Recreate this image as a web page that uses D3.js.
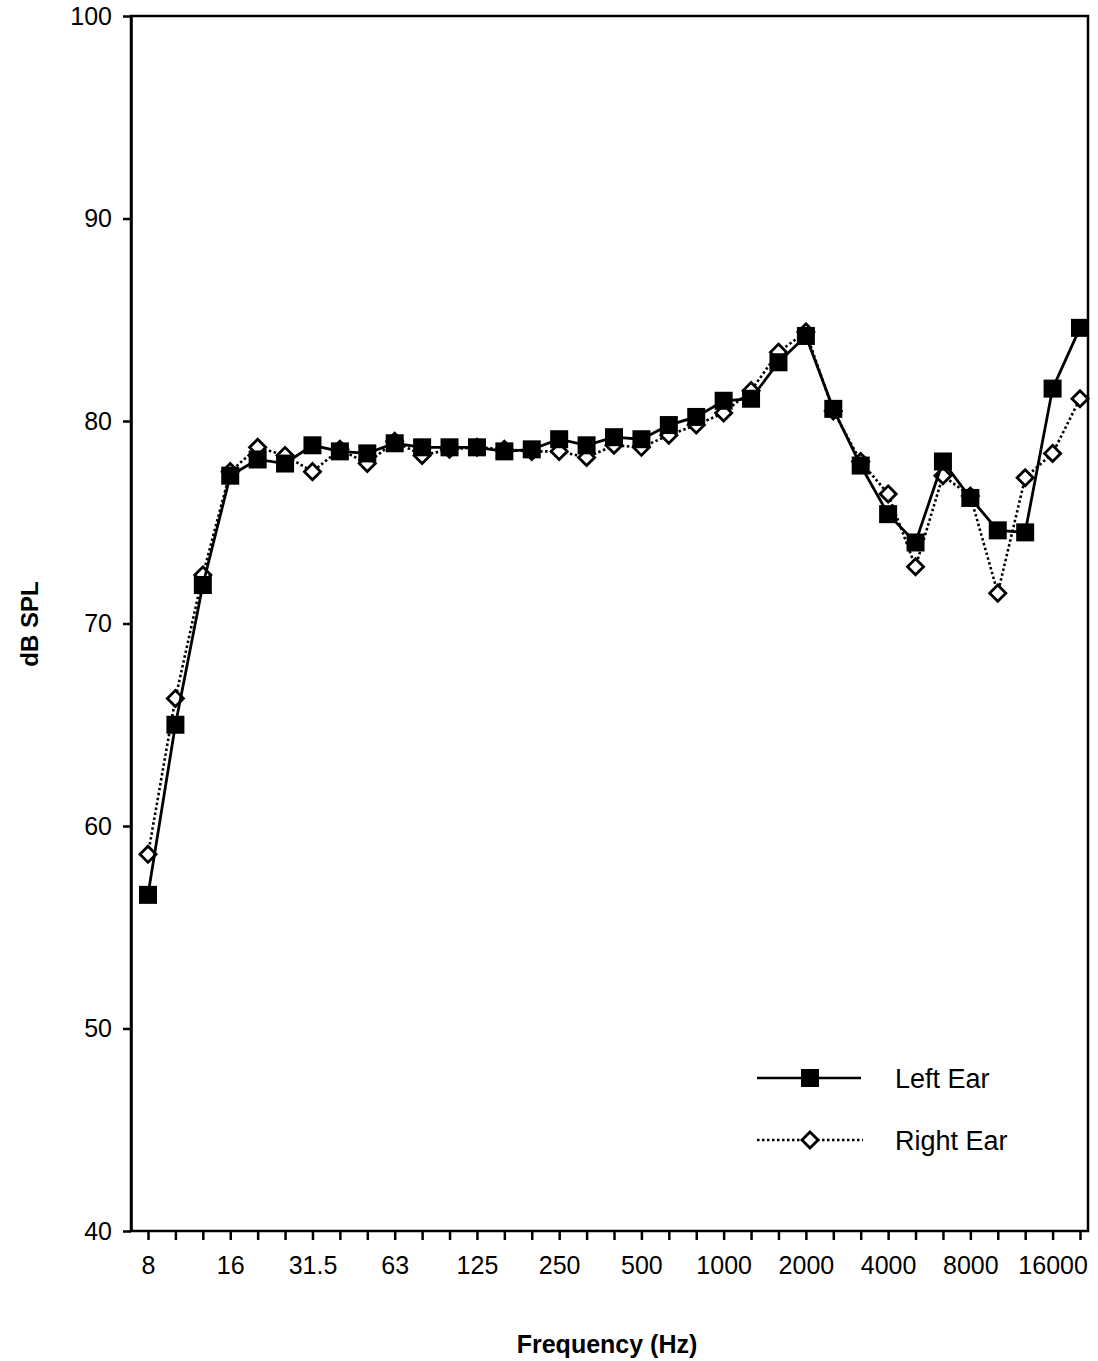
<!DOCTYPE html>
<html>
<head>
<meta charset="utf-8">
<script src="https://cdn.jsdelivr.net/npm/d3@7"></script>
<style>
  body { margin: 0; background: #fff; }
  svg { font-family: "Liberation Sans", Arial, sans-serif; }
</style>
</head>
<body>
<div id="chart"></div>
<script>
// third-octave bands
const freqs = ['8', '10', '12.5', '16', '20', '25', '31.5', '40', '50', '63', '80', '100', '125', '160', '200', '250',
  '315', '400', '500', '630', '800', '1000', '1250', '1600', '2000', '2500', '3150', '4000', '5000', '6300', '8000',
  '10000', '12500', '16000', '20000'];
const freqLabels = ['8', '16', '31.5', '63', '125', '250', '500', '1000', '2000', '4000', '8000', '16000'];

const leftEar = [56.6, 65.0, 71.9, 77.3, 78.1, 77.9, 78.8, 78.5, 78.4, 78.9, 78.7, 78.7, 78.7, 78.5, 78.6, 79.1,
  78.8, 79.2, 79.1, 79.8, 80.2, 81.0, 81.1, 82.9, 84.2, 80.6, 77.8, 75.4, 74.0, 78.0, 76.2, 74.6, 74.5, 81.6, 84.6];
const rightEar = [58.6, 66.3, 72.4, 77.5, 78.7, 78.3, 77.5, 78.6, 77.9, 79.0, 78.3, 78.6, 78.7, 78.6, 78.5, 78.5,
  78.2, 78.8, 78.7, 79.3, 79.8, 80.4, 81.5, 83.4, 84.4, 80.5, 78.0, 76.4, 72.8, 77.3, 76.3, 71.5, 77.2, 78.4, 81.1];

const yTicks = [40, 50, 60, 70, 80, 90, 100];

const chartAttrs = {
  width: 1098,
  height: 1361,
  margin: { top: 16, right: 10, bottom: 130, left: 131 }
};
const w = chartAttrs.width - chartAttrs.margin.left - chartAttrs.margin.right; // 957
const h = chartAttrs.height - chartAttrs.margin.top - chartAttrs.margin.bottom; // 1215

const svg = d3.select('#chart')
  .append('svg')
  .attr('width', chartAttrs.width)
  .attr('height', chartAttrs.height);

const g = svg.append('g')
  .attr('transform', `translate(${chartAttrs.margin.left},${chartAttrs.margin.top})`);

const x = d3.scalePoint().domain(freqs).range([17, 949]);
const y = d3.scaleLinear().domain([40, 100]).range([h, 0]);

// frame
g.append('rect')
  .attr('width', w)
  .attr('height', h)
  .attr('fill', 'none')
  .attr('stroke', '#000')
  .attr('stroke-width', 2.5);

// y axis
const yAxis = g.append('g')
  .call(d3.axisLeft(y).tickValues(yTicks).tickSize(8).tickPadding(6).tickSizeOuter(0));
yAxis.select('.domain').attr('stroke-width', 2.5);
yAxis.selectAll('.tick line').attr('stroke-width', 2.5);
yAxis.selectAll('.tick text').attr('font-size', 25).attr('fill', '#000').attr('dx', -5);

// x axis
const xAxis = g.append('g')
  .attr('transform', `translate(0,${h})`)
  .call(d3.axisBottom(x).tickSize(9).tickPadding(16).tickSizeOuter(0)
    .tickFormat(d => (freqLabels.includes(d) ? d : '')));
xAxis.select('.domain').remove();
xAxis.selectAll('.tick line').attr('stroke-width', 2.5);
xAxis.selectAll('.tick text').attr('font-size', 25).attr('fill', '#000');

// axis titles
svg.append('text')
  .attr('transform', 'translate(38,624) rotate(-90)')
  .attr('text-anchor', 'middle')
  .attr('font-size', 24)
  .attr('font-weight', 'bold')
  .text('dB SPL');

svg.append('text')
  .attr('x', 607)
  .attr('y', 1353)
  .attr('text-anchor', 'middle')
  .attr('font-size', 25)
  .attr('font-weight', 'bold')
  .text('Frequency (Hz)');

const line = d3.line()
  .x((d, i) => x(freqs[i]))
  .y(d => y(d));

// right ear (dotted, open diamonds)
g.append('path')
  .datum(rightEar)
  .attr('d', line)
  .attr('fill', 'none')
  .attr('stroke', '#000')
  .attr('stroke-width', 2.6)
  .attr('stroke-dasharray', '2.5,2.5');

const diamond = d3.symbol().type(d3.symbolDiamond2).size(165);
g.append('g')
  .selectAll('path')
  .data(rightEar)
  .join('path')
  .attr('d', diamond)
  .attr('transform', (d, i) => `translate(${x(freqs[i])},${y(d)})`)
  .attr('fill', '#fff')
  .attr('stroke', '#000')
  .attr('stroke-width', 2.8);

// left ear (solid, filled squares)
g.append('path')
  .datum(leftEar)
  .attr('d', line)
  .attr('fill', 'none')
  .attr('stroke', '#000')
  .attr('stroke-width', 2.8);

g.append('g')
  .selectAll('rect')
  .data(leftEar)
  .join('rect')
  .attr('x', (d, i) => x(freqs[i]) - 9)
  .attr('y', d => y(d) - 9)
  .attr('width', 18)
  .attr('height', 18)
  .attr('fill', '#000');

// legend
const legend = svg.append('g');
legend.append('line')
  .attr('x1', 757).attr('x2', 861).attr('y1', 1078).attr('y2', 1078)
  .attr('stroke', '#000').attr('stroke-width', 2.5);
legend.append('rect')
  .attr('x', 801).attr('y', 1069).attr('width', 18).attr('height', 18).attr('fill', '#000');
legend.append('text')
  .attr('x', 895).attr('y', 1088).attr('font-size', 27).text('Left Ear');

legend.append('line')
  .attr('x1', 757).attr('x2', 863).attr('y1', 1140).attr('y2', 1140)
  .attr('stroke', '#000').attr('stroke-width', 2.4).attr('stroke-dasharray', '2.5,2.5');
legend.append('path')
  .attr('d', diamond)
  .attr('transform', 'translate(810,1140)')
  .attr('fill', '#fff').attr('stroke', '#000').attr('stroke-width', 2.8);
legend.append('text')
  .attr('x', 895).attr('y', 1150).attr('font-size', 27).text('Right Ear');
</script>
</body>
</html>
